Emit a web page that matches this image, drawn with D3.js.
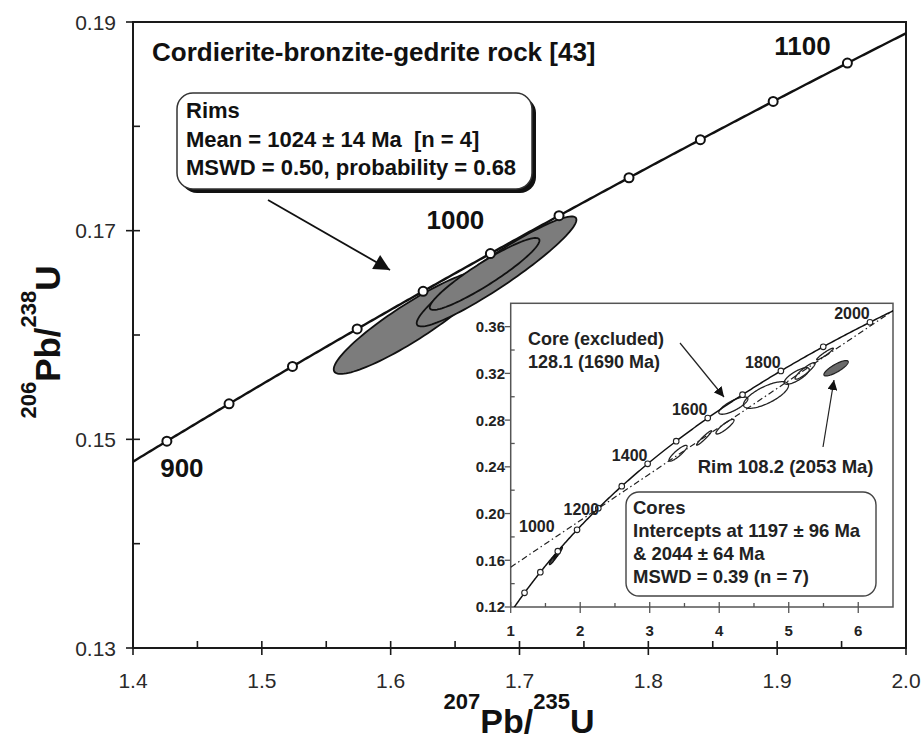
<!DOCTYPE html>
<html><head><meta charset="utf-8">
<script src="https://cdn.jsdelivr.net/npm/d3@7/dist/d3.min.js"></script>
<style>body{margin:0;background:#fff} svg{display:block} text{font-family:"Liberation Sans",Arial,Helvetica,sans-serif;white-space:pre}</style>
</head><body>
<svg id="c" width="923" height="742"></svg>
<script>
// decay constants (per year)
const L238 = 1.55125e-10, L235 = 9.8485e-10;

// ---- main plot data ----
const mainXTicks = [1.4, 1.5, 1.6, 1.7, 1.8, 1.9, 2.0];
const mainXMinor = [1.45, 1.55, 1.65, 1.75, 1.85, 1.95];
const mainYTicks = [0.13, 0.15, 0.17, 0.19];
const mainYMinor = [0.14, 0.16, 0.18];
const mainMarkerAges = [900, 920, 940, 960, 980, 1000, 1020, 1040, 1060, 1080, 1100];
const mainAgeLabels = [900, 1000, 1100];
// rim analyses: centre, half extents, correlation
const rimX   = [1.6163, 1.6822, 1.6729];
const rimY   = [0.16125, 0.16609, 0.16585];
const rimSX  = [0.0605, 0.0620, 0.0426];
const rimSY  = [0.00498, 0.00527, 0.00345];
const rimRho = [0.91, 0.94, 0.93];

// ---- inset data ----
const insetXTicks = [1, 2, 3, 4, 5, 6];
const insetXMinor = [1.5, 2.5, 3.5, 4.5, 5.5];
const insetYTicks = [0.12, 0.16, 0.20, 0.24, 0.28, 0.32, 0.36];
const insetYMinor = [0.14, 0.18, 0.22, 0.26, 0.30, 0.34];
const insetMarkerAges = [800, 900, 1000, 1100, 1200, 1300, 1400, 1500, 1600, 1700, 1800, 1900, 2000];
const insetAgeLabels = [1000, 1200, 1400, 1600, 1800, 2000];
const coreX   = [3.407, 3.782, 4.083, 4.673, 5.115, 5.235, 5.522];
const coreY   = [0.2516, 0.2647, 0.2744, 0.3015, 0.3178, 0.3221, 0.3366];
const coreSX  = [0.13, 0.108, 0.13, 0.324, 0.18, 0.144, 0.12];
const coreSY  = [0.0068, 0.0062, 0.0063, 0.0114, 0.0071, 0.0071, 0.0050];
const coreRho = [0.88, 0.96, 0.88, 0.72, 0.78, 0.90, 0.95];
const excludedCore = [4.203, 0.2924, 0.209, 0.0074, 0.78];
const rimOutlier = [5.681, 0.3244, 0.175, 0.0066, 0.82];
const interceptAges = [1197, 2044];

// ---- texts ----
const titleText = "Cordierite-bronzite-gedrite rock [43]";
const rimsBoxLines = ["Rims", "Mean = 1024 \u00b1 14 Ma  [n = 4]", "MSWD = 0.50, probability = 0.68"];
const coresBoxLines = ["Cores", "Intercepts at 1197 \u00b1 96 Ma", "& 2044 \u00b1 64 Ma", "MSWD = 0.39 (n = 7)"];
const excludedLines = ["Core (excluded)", "128.1 (1690 Ma)"];
const rimOutlierText = "Rim 108.2 (2053 Ma)";

// ---- helpers ----
const r206 = t => Math.exp(L238 * t * 1e6) - 1;
const r207 = t => Math.exp(L235 * t * 1e6) - 1;
const ageAtX = x => Math.log(1 + x) / L235 / 1e6;
const ageAtY = y => Math.log(1 + y) / L238 / 1e6;
const svg = d3.select("#c");
const defs = svg.append("defs");
defs.append("marker").attr("id", "ah").attr("viewBox", "0 0 10 10").attr("refX", 10).attr("refY", 5)
  .attr("markerWidth", 10).attr("markerHeight", 10).attr("markerUnits", "userSpaceOnUse").attr("orient", "auto")
  .append("path").attr("d", "M0,0L10,5L0,10z").attr("fill", "#111");
defs.append("marker").attr("id", "ahBig").attr("viewBox", "0 0 10 10").attr("refX", 10).attr("refY", 5)
  .attr("markerWidth", 18).attr("markerHeight", 16).attr("markerUnits", "userSpaceOnUse").attr("orient", "auto")
  .append("path").attr("d", "M0,0L10,5L0,10z").attr("fill", "#111");

function ellipsePts(cx, cy, sx, sy, rho) {
  const k = Math.sqrt(1 - rho * rho), pts = [];
  for (let i = 0; i < 120; i++) {
    const a = i / 120 * 2 * Math.PI;
    pts.push([cx + sx * Math.cos(a), cy + sy * (rho * Math.cos(a) + k * Math.sin(a))]);
  }
  return pts;
}
function concordiaPts(t0, t1) {
  const pts = [];
  for (let t = t0; t <= t1 + 1e-9; t += (t1 - t0) / 300) pts.push([r207(t), r206(t)]);
  return pts;
}

// ================= MAIN PLOT =================
const x = d3.scaleLinear().domain([1.4, 2.0]).range([133, 906]);
const y = d3.scaleLinear().domain([0.13, 0.19]).range([648, 22]);
const ax = "#1a1a1a";
defs.append("clipPath").attr("id", "mclip").append("rect")
  .attr("x", x(1.4)).attr("y", y(0.19)).attr("width", x(2.0) - x(1.4)).attr("height", y(0.13) - y(0.19));

const g = svg.append("g");
g.append("rect").attr("x", x(1.4)).attr("y", y(0.19)).attr("width", x(2.0) - x(1.4)).attr("height", y(0.13) - y(0.19))
  .attr("fill", "none").attr("stroke", ax).attr("stroke-width", 2);
g.selectAll(".xt").data(mainXTicks).join("line").attr("x1", d => x(d)).attr("x2", d => x(d))
  .attr("y1", y(0.13) - 7).attr("y2", y(0.13) + 7).attr("stroke", ax).attr("stroke-width", 1.6);
g.selectAll(".xm").data(mainXMinor).join("line").attr("x1", d => x(d)).attr("x2", d => x(d))
  .attr("y1", y(0.13) - 7).attr("y2", y(0.13)).attr("stroke", ax).attr("stroke-width", 1.6);
g.selectAll(".xl").data(mainXTicks).join("text").attr("x", d => x(d)).attr("y", 688)
  .attr("text-anchor", "middle").attr("font-size", 21).attr("fill", "#2a2a2a").text(d => d.toFixed(1));
g.selectAll(".yt").data(mainYTicks).join("line").attr("y1", d => y(d)).attr("y2", d => y(d))
  .attr("x1", x(1.4) - 7).attr("x2", x(1.4) + 7).attr("stroke", ax).attr("stroke-width", 1.6);
g.selectAll(".ym").data(mainYMinor).join("line").attr("y1", d => y(d)).attr("y2", d => y(d))
  .attr("x1", x(1.4)).attr("x2", x(1.4) + 7).attr("stroke", ax).attr("stroke-width", 1.6);
g.selectAll(".yl").data(mainYTicks).join("text").attr("x", 116).attr("y", d => y(d)).attr("dy", "0.36em")
  .attr("text-anchor", "end").attr("font-size", 21).attr("fill", "#2a2a2a").text(d => d.toFixed(2));

// axis titles
const xt = svg.append("text").attr("x", 519).attr("y", 733).attr("text-anchor", "middle").attr("font-weight", "bold").attr("font-size", 34).attr("fill", "#111");
xt.append("tspan").attr("font-size", 22).attr("dy", -24).text("207");
xt.append("tspan").attr("dy", 24).text("Pb/");
xt.append("tspan").attr("font-size", 22).attr("dy", -24).text("235");
xt.append("tspan").attr("dy", 24).text("U");
const yt = svg.append("text").attr("transform", "translate(60,342) rotate(-90)").attr("text-anchor", "middle").attr("font-weight", "bold").attr("font-size", 35).attr("fill", "#111");
yt.append("tspan").attr("font-size", 22).attr("dy", -24).text("206");
yt.append("tspan").attr("dy", 24).text("Pb/");
yt.append("tspan").attr("font-size", 22).attr("dy", -24).text("238");
yt.append("tspan").attr("dy", 24).text("U");

// rim ellipses
const mLine = d3.line().x(d => x(d[0])).y(d => y(d[1])).curve(d3.curveLinearClosed);
const mg = svg.append("g").attr("clip-path", "url(#mclip)");
rimX.forEach((cx, i) => {
  mg.append("path").attr("d", mLine(ellipsePts(cx, rimY[i], rimSX[i], rimSY[i], rimRho[i])))
    .attr("fill", "#7c7c7c").attr("stroke", "#111").attr("stroke-width", 1.8);
});
mg.append("path").attr("d", d3.line().x(d => x(d[0])).y(d => y(d[1]))(concordiaPts(ageAtX(1.4) - 2, ageAtX(2.0) + 2)))
  .attr("fill", "none").attr("stroke", "#111").attr("stroke-width", 2.4);
mg.selectAll(".mk").data(mainMarkerAges).join("circle").attr("cx", d => x(r207(d))).attr("cy", d => y(r206(d)))
  .attr("r", 4.5).attr("fill", "#fff").attr("stroke", "#111").attr("stroke-width", 2);
const mainLabelOff = {900: [15, 36], 1000: [-35, -25], 1100: [-45, -8]};
svg.selectAll(".ml").data(mainAgeLabels).join("text")
  .attr("x", d => x(r207(d)) + mainLabelOff[d][0]).attr("y", d => y(r206(d)) + mainLabelOff[d][1])
  .attr("text-anchor", "middle").attr("font-weight", "bold").attr("font-size", 26).attr("fill", "#111").text(d => d);

svg.append("text").attr("x", 152).attr("y", 61).attr("font-weight", "bold").attr("font-size", 26).attr("fill", "#111").text(titleText);

// rims box
svg.append("rect").attr("x", 181).attr("y", 97).attr("width", 355).attr("height", 96).attr("rx", 16).attr("fill", "#111");
svg.append("rect").attr("x", 177).attr("y", 93).attr("width", 355).attr("height", 96).attr("rx", 16).attr("fill", "#fff").attr("stroke", "#333").attr("stroke-width", 1.5);
svg.selectAll(".rb").data(rimsBoxLines).join("text").attr("x", 186).attr("y", (d, i) => 118 + i * 28.5)
  .attr("font-weight", "bold").attr("font-size", 22).attr("fill", "#111").text(d => d);
svg.append("line").attr("x1", 268).attr("y1", 200).attr("x2", 390).attr("y2", 270)
  .attr("stroke", "#111").attr("stroke-width", 1.8).attr("marker-end", "url(#ahBig)");

// ================= INSET =================
const ix = d3.scaleLinear().domain([1, 6.5]).range([510.7, 893]);
const iy = d3.scaleLinear().domain([0.12, 0.38]).range([607, 303.3]);
defs.append("clipPath").attr("id", "iclip").append("rect")
  .attr("x", ix(1)).attr("y", iy(0.38)).attr("width", ix(6.5) - ix(1)).attr("height", iy(0.12) - iy(0.38));
const ig = svg.append("g");
const ic = "#555";
ig.append("rect").attr("x", ix(1)).attr("y", iy(0.38)).attr("width", ix(6.5) - ix(1)).attr("height", iy(0.12) - iy(0.38))
  .attr("fill", "#fff").attr("stroke", ic).attr("stroke-width", 1.5);
ig.selectAll(".ixt").data(insetXTicks).join("line").attr("x1", d => ix(d)).attr("x2", d => ix(d))
  .attr("y1", iy(0.12) - 5).attr("y2", iy(0.12) + 6).attr("stroke", ic).attr("stroke-width", 1.3);
ig.selectAll(".ixm").data(insetXMinor).join("line").attr("x1", d => ix(d)).attr("x2", d => ix(d))
  .attr("y1", iy(0.12) - 4).attr("y2", iy(0.12)).attr("stroke", ic).attr("stroke-width", 1.3);
ig.selectAll(".ixl").data(insetXTicks).join("text").attr("x", d => ix(d)).attr("y", 636)
  .attr("text-anchor", "middle").attr("font-weight", "bold").attr("font-size", 15).attr("fill", "#222").text(d => d);
ig.selectAll(".iyt").data(insetYTicks).join("line").attr("y1", d => iy(d)).attr("y2", d => iy(d))
  .attr("x1", ix(1) - 6).attr("x2", ix(1)).attr("stroke", ic).attr("stroke-width", 1.3);
ig.selectAll(".iym").data(insetYMinor).join("line").attr("y1", d => iy(d)).attr("y2", d => iy(d))
  .attr("x1", ix(1)).attr("x2", ix(1) + 4).attr("stroke", ic).attr("stroke-width", 1.3);
ig.selectAll(".iyl").data(insetYTicks).join("text").attr("x", 505).attr("y", d => iy(d)).attr("dy", "0.36em")
  .attr("text-anchor", "end").attr("font-weight", "bold").attr("font-size", 15).attr("fill", "#222").text(d => d.toFixed(2));

const iLine = d3.line().x(d => ix(d[0])).y(d => iy(d[1])).curve(d3.curveLinearClosed);
const icg = svg.append("g").attr("clip-path", "url(#iclip)");
const ia = [r207(interceptAges[0]), r206(interceptAges[0])], ib = [r207(interceptAges[1]), r206(interceptAges[1])];
const slope = (ib[1] - ia[1]) / (ib[0] - ia[0]);
icg.append("line").attr("x1", ix(1)).attr("y1", iy(ia[1] + (1 - ia[0]) * slope))
  .attr("x2", ix(6.5)).attr("y2", iy(ia[1] + (6.5 - ia[0]) * slope))
  .attr("stroke", "#222").attr("stroke-width", 1.2).attr("stroke-dasharray", "6,3,1.5,3");
coreX.forEach((cx, i) => {
  icg.append("path").attr("d", iLine(ellipsePts(cx, coreY[i], coreSX[i], coreSY[i], coreRho[i])))
    .attr("fill", "none").attr("stroke", "#222").attr("stroke-width", 1.3);
});
icg.append("path").attr("d", iLine(ellipsePts(...excludedCore))).attr("fill", "none").attr("stroke", "#222").attr("stroke-width", 1.3);
icg.append("path").attr("d", iLine(ellipsePts(...rimOutlier))).attr("fill", "#6a6a6a").attr("stroke", "#222").attr("stroke-width", 1.2);
rimX.forEach((cx, i) => {
  icg.append("path").attr("d", iLine(ellipsePts(cx, rimY[i], rimSX[i], rimSY[i], rimRho[i])))
    .attr("fill", "#444").attr("stroke", "#111").attr("stroke-width", 1.2);
});
icg.append("path").attr("d", d3.line().x(d => ix(d[0])).y(d => iy(d[1]))(concordiaPts(ageAtY(0.12) - 5, ageAtX(6.5) + 5)))
  .attr("fill", "none").attr("stroke", "#111").attr("stroke-width", 1.5);
icg.selectAll(".imk").data(insetMarkerAges).join("circle").attr("cx", d => ix(r207(d))).attr("cy", d => iy(r206(d)))
  .attr("r", 2.8).attr("fill", "#fff").attr("stroke", "#222").attr("stroke-width", 1.1);
const insetLabelOff = {1000: [-21, -19.5], 1200: [-17, 7]};
svg.selectAll(".il").data(insetAgeLabels).join("text")
  .attr("x", d => ix(r207(d)) + (insetLabelOff[d] ? insetLabelOff[d][0] : -18))
  .attr("y", d => iy(r206(d)) + (insetLabelOff[d] ? insetLabelOff[d][1] : -3))
  .attr("text-anchor", "middle").attr("font-weight", "bold").attr("font-size", 16).attr("fill", "#222").text(d => d);

svg.selectAll(".ex").data(excludedLines).join("text").attr("x", 528).attr("y", (d, i) => 345 + i * 23)
  .attr("font-weight", "bold").attr("font-size", 18).attr("fill", "#222").text(d => d);
svg.append("line").attr("x1", 680).attr("y1", 343).attr("x2", 724).attr("y2", 397)
  .attr("stroke", "#222").attr("stroke-width", 1.2).attr("marker-end", "url(#ah)");
svg.append("text").attr("x", 697.7).attr("y", 472.7).attr("font-weight", "bold").attr("font-size", 18.5).attr("fill", "#222").text(rimOutlierText);
svg.append("line").attr("x1", 823).attr("y1", 447).attr("x2", 834).attr("y2", 380)
  .attr("stroke", "#222").attr("stroke-width", 1.2).attr("marker-end", "url(#ah)");
svg.append("rect").attr("x", 626).attr("y", 492).attr("width", 250).attr("height", 104).attr("rx", 13)
  .attr("fill", "#fff").attr("stroke", "#444").attr("stroke-width", 1.4);
svg.selectAll(".cb").data(coresBoxLines).join("text").attr("x", 633).attr("y", (d, i) => 514 + i * 22.9)
  .attr("font-weight", "bold").attr("font-size", 18.5).attr("fill", "#222").text(d => d);
</script>
</body></html>
